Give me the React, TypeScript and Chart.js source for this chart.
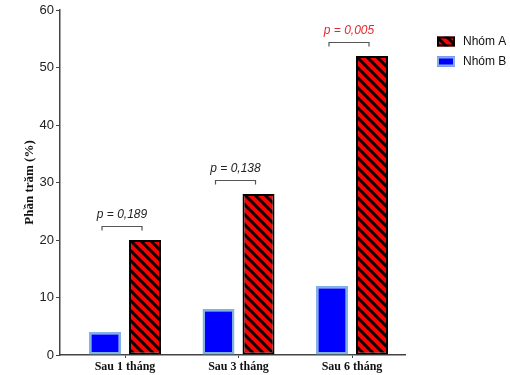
import { useEffect, useRef } from "react";
import { Chart, registerables } from "chart.js";
Chart.register(...registerables);

const categories = ["Sau 1 tháng", "Sau 3 tháng", "Sau 6 tháng"];
const seriesNames = ["Nhóm B", "Nhóm A"];
const nhomB = [4, 8, 12];
const nhomA = [20, 28, 52];
const pLabels = ["p = 0,189", "p = 0,138", "p = 0,005"];
const pSignificant = [false, false, true];
const yMin = 0;
const yMax = 60;
const yStep = 10;

function makeHatch(): CanvasPattern | string {
  const s = 10;
  const c = document.createElement("canvas");
  c.width = s;
  c.height = s;
  const g = c.getContext("2d");
  if (!g) return "#ff0000";
  g.fillStyle = "#ff0000";
  g.fillRect(0, 0, s, s);
  g.strokeStyle = "#000000";
  g.lineWidth = 3;
  for (const k of [-s, 0, s]) {
    g.beginPath();
    g.moveTo(k - 1, -1);
    g.lineTo(k + s + 1, s + 1);
    g.stroke();
  }
  const p = g.createPattern(c, "repeat");
  return p || "#ff0000";
}

export default function App() {
  const ref = useRef<HTMLCanvasElement | null>(null);
  useEffect(() => {
    if (!ref.current) return;
    const hatch = makeHatch();
    const blueFill = "#0000ff";
    const blueBorder = "#80b2e3";

    const pPlugin = {
      id: "pvalues",
      afterDatasetsDraw(chart: any) {
        const ctx = chart.ctx;
        const mB = chart.getDatasetMeta(0).data;
        const mA = chart.getDatasetMeta(1).data;
        const ys = chart.scales.y;
        ctx.save();
        categories.forEach((_, i) => {
          const x1 = mB[i].x - 3;
          const x2 = mA[i].x - 3;
          const top = ys.getPixelForValue(Math.max(nhomA[i], nhomB[i]));
          const ly = Math.round(top - 14) + 0.5;
          ctx.strokeStyle = "#555";
          ctx.lineWidth = 1.2;
          ctx.beginPath();
          ctx.moveTo(x1, ly + 4);
          ctx.lineTo(x1, ly);
          ctx.lineTo(x2, ly);
          ctx.lineTo(x2, ly + 4);
          ctx.stroke();
          ctx.font = "italic 12px 'Liberation Sans', Arial, sans-serif";
          ctx.fillStyle = pSignificant[i] ? "#e8262d" : "#222";
          ctx.textAlign = "center";
          ctx.textBaseline = "middle";
          ctx.fillText(pLabels[i], (x1 + x2) / 2, ly - 12);
        });
        ctx.restore();
      },
    };

    const legendPlugin = {
      id: "customLegend",
      afterDraw(chart: any) {
        const ctx = chart.ctx;
        const order = [1, 0];
        ctx.save();
        order.forEach((di, k) => {
          const ds = chart.data.datasets[di];
          const bx = 437;
          const by = 36.5 + k * 20;
          ctx.fillStyle = ds.backgroundColor;
          ctx.fillRect(bx, by, 18, 10);
          ctx.strokeStyle = ds.borderColor;
          ctx.lineWidth = 2;
          ctx.strokeRect(bx + 1, by + 1, 16, 8);
          ctx.font = "12px 'Liberation Sans', Arial, sans-serif";
          ctx.fillStyle = "#111";
          ctx.textAlign = "left";
          ctx.textBaseline = "middle";
          ctx.fillText(ds.label, 463, by + 5);
        });
        ctx.restore();
      },
    };

    const chart = new Chart(ref.current, {
      type: "bar",
      data: {
        datasets: [
          {
            label: seriesNames[0],
            data: nhomB.map((v, i) => ({ x: i + 1, y: v })),
            backgroundColor: blueFill,
            borderColor: blueBorder,
            borderWidth: 2.5,
            borderSkipped: false,
          },
          {
            label: seriesNames[1],
            data: nhomA.map((v, i) => ({ x: i + 1, y: v })),
            backgroundColor: hatch as any,
            borderColor: "#000000",
            borderWidth: 2,
            borderSkipped: false,
          },
        ],
      },
      options: {
        responsive: false,
        animation: false,
        categoryPercentage: 0.705,
        barPercentage: 0.8,
        layout: { padding: { top: 10, right: 105, left: 0, bottom: 0 } },
        plugins: {
          legend: { display: false },
          tooltip: { enabled: false },
          title: { display: false },
        },
        scales: {
          x: {
            type: "linear",
            offset: false,
            min: 0.427,
            max: 3.467,
            afterBuildTicks: (s: any) => {
              s.ticks = categories.map((_, i) => ({ value: i + 1 }));
            },
            afterFit: (s: any) => {
              s.height = 20;
            },
            ticks: {
              autoSkip: false,
              maxRotation: 0,
              padding: 2,
              color: "#111",
              font: { family: "'Liberation Serif', 'Times New Roman', serif", weight: "bold", size: 12 },
              callback: (v: any) => categories[Math.round(Number(v)) - 1] ?? "",
            },
            grid: { drawOnChartArea: false, offset: false, tickLength: 3, color: "#444" },
            border: { color: "#444", width: 1.5 },
          },
          y: {
            min: yMin,
            max: yMax,
            afterFit: (s: any) => {
              s.width = 60;
            },
            ticks: {
              stepSize: yStep,
              padding: 2,
              color: "#222",
              font: { family: "'Liberation Sans', Arial, sans-serif", size: 13 },
            },
            grid: { drawOnChartArea: false, tickLength: 4, color: "#444" },
            border: { color: "#444", width: 1.5 },
            title: {
              display: true,
              text: "Phần trăm (%)",
              color: "#111",
              font: { family: "'Liberation Serif', 'Times New Roman', serif", weight: "bold", size: 13 },
              padding: { top: 22, bottom: 0 },
            },
          },
        },
      },
      plugins: [pPlugin, legendPlugin],
    } as any);
    return () => chart.destroy();
  }, []);

  return (
    <div style={{ position: "fixed", left: 0, top: 0, width: 510, height: 375, background: "#fff" }}>
      <canvas ref={ref} width={510} height={375} style={{ display: "block" }} />
    </div>
  );
}
